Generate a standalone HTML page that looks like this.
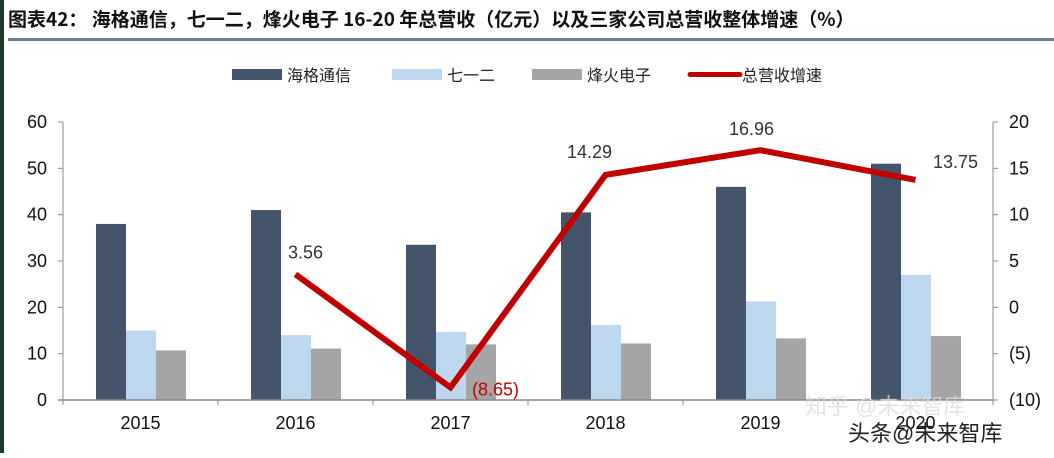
<!DOCTYPE html>
<html><head><meta charset="utf-8"><style>
body{margin:0;background:#fff;}
svg text{font-family:"Liberation Sans","Noto Sans CJK SC",sans-serif;}
</style></head><body>
<svg width="1054" height="453" viewBox="0 0 1054 453" xmlns="http://www.w3.org/2000/svg">
<rect x="0" y="0" width="4" height="453" fill="#1b3a2c"/>
<text x="8" y="26" font-size="19" font-weight="bold" fill="#111" style="font-family:'Noto Sans CJK SC',sans-serif">图表42：  海格通信，七一二，烽火电子 16-20 年总营收（亿元）以及三家公司总营收整体增速（%）</text>
<rect x="8" y="38" width="1046" height="3" fill="#6b7f8e"/>
<g id="legend" font-size="16" fill="#222">
<rect x="232" y="69" width="50" height="11" fill="#44546a"/>
<text x="287" y="81">海格通信</text>
<rect x="392" y="69" width="50" height="11" fill="#bdd7ee"/>
<text x="447" y="81">七一二</text>
<rect x="532" y="69" width="50" height="11" fill="#a5a5a5"/>
<text x="587" y="81">烽火电子</text>
<line x1="690" y1="74.5" x2="740" y2="74.5" stroke="#c00000" stroke-width="5" stroke-linecap="round"/>
<text x="742" y="81">总营收增速</text>
</g>
<g id="plot"></g>
<text x="805" y="414" font-size="22" fill="#ddd" opacity="0.8">知乎 @未来智库</text>
<text x="848" y="441" font-size="22" fill="#222">头条@未来智库</text>
</svg>
<script>
const years=['2015','2016','2017','2018','2019','2020'];
const haige=[38,41,33.5,40.5,46,51];
const s712=[15,14,14.7,16.2,21.3,27];
const fenghuo=[10.7,11.1,12,12.2,13.3,13.8];
const growthYears=['2016','2017','2018','2019','2020'];
const growth=[3.56,-8.65,14.29,16.96,13.75];
const leftTicks=[0,10,20,30,40,50,60];
const rightTicks=[-10,-5,0,5,10,15,20];
const rightTickLabels=['(10)','(5)','0','5','10','15','20'];
const growthLabels=['3.56','(8.65)','14.29','16.96','13.75'];
// label placement offsets (styling, not data)
const labelDx=[10,45,-16,-9,40];
const labelDy=[-16,8,-17,-15,-12];

const NS='http://www.w3.org/2000/svg';
const g=document.getElementById('plot');
const X0=63,X1=993,Y0=400,Y1=122;
const band=(X1-X0)/years.length;
const xc=i=>X0+band*(i+0.5);
const yL=v=>Y0-(v/60)*(Y0-Y1);
const yR=v=>Y0-((v+10)/30)*(Y0-Y1);
function el(t,a,txt){const e=document.createElementNS(NS,t);for(const k in a)e.setAttribute(k,a[k]);if(txt!==undefined)e.textContent=txt;g.appendChild(e);return e;}
const bw=30;
const series=[[haige,'#44546a','haige'],[s712,'#bdd7ee','712'],[fenghuo,'#a5a5a5','fenghuo']];
series.forEach(([arr,col,nm],si)=>{
  arr.forEach((v,i)=>{
    const x=xc(i)-44.5+si*bw;
    const r=el('rect',{x:x,y:yL(v),width:bw,height:Y0-yL(v),fill:col});
    
    
  });
});
let a=el('line',{x1:X0,y1:Y1,x2:X0,y2:Y0,stroke:'#888','stroke-width':1});


a=el('line',{x1:X1,y1:Y1,x2:X1,y2:Y0,stroke:'#888','stroke-width':1});


a=el('line',{x1:X0-5,y1:Y0,x2:X1,y2:Y0,stroke:'#888','stroke-width':1.5});


leftTicks.forEach(v=>{
  const y=yL(v);
  el('line',{x1:X0-5,y1:y,x2:X0,y2:y,stroke:'#888'});
  const t=el('text',{x:X0-16,y:y+6,'font-size':18,'text-anchor':'end',fill:'#111'},String(v));
  
  
});
rightTicks.forEach((v,i)=>{
  const y=yR(v);
  el('line',{x1:X1,y1:y,x2:X1+5,y2:y,stroke:'#888'});
  const t=el('text',{x:X1+16,y:y+6,'font-size':18,fill:'#111'},rightTickLabels[i]);
  
  
});
for(let i=0;i<=years.length;i++){el('line',{x1:X0+band*i,y1:Y0,x2:X0+band*i,y2:Y0+5,stroke:'#888'});}
years.forEach((yr,i)=>{
  const t=el('text',{x:xc(i),y:429,'font-size':18,'text-anchor':'middle',fill:'#111'},yr);
  
  
});
const pts=growth.map((v,i)=>[xc(years.indexOf(growthYears[i])),yR(v)]);
const pl=el('polyline',{points:pts.map(p=>p.join(',')).join(' '),fill:'none',stroke:'#c00000','stroke-width':6,'stroke-linejoin':'miter'});


pts.forEach((p,i)=>{
  const neg=growth[i]<0;
  const t=el('text',{x:p[0]+labelDx[i],y:p[1]+labelDy[i],'font-size':18,'text-anchor':'middle',fill:neg?'#c00000':'#333'},growthLabels[i]);
  
  
});
</script>
</body></html>
